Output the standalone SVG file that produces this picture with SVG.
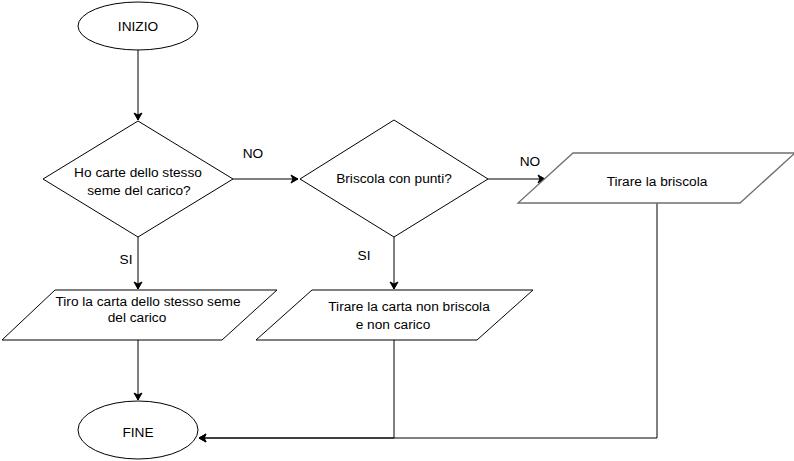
<svg xmlns="http://www.w3.org/2000/svg" width="794" height="461" viewBox="0 0 794 461">
<style>
.s{fill:#fff;stroke:#000;stroke-width:1}
.g{fill:#fff;stroke:#6f6f6f;stroke-width:1.3}
.t{font-family:"Liberation Sans",Arial,Helvetica,sans-serif;font-size:13.7px;fill:#000;text-anchor:middle}
.c{fill:none;stroke:#000;stroke-width:1}
</style>
<defs>
<marker id="a" markerWidth="10" markerHeight="10" refX="8" refY="5" orient="auto" markerUnits="userSpaceOnUse">
<path d="M1,1 L8,5 L1,9 L3,5 Z" fill="#000" stroke="#000" stroke-width="1"/>
</marker>
</defs>
<rect width="794" height="461" fill="#fff"/>
<g id="connectors">
<path class="c" d="M138,50 L138,120" marker-end="url(#a)"/>
<path class="c" d="M233,179 L298,179" marker-end="url(#a)"/>
<path class="c" d="M488,179 L545,179" marker-end="url(#a)"/>
<path class="c" d="M138,237 L138,289" marker-end="url(#a)"/>
<path class="c" d="M394,237 L394,289" marker-end="url(#a)"/>
<path class="c" d="M138,340 L138,400" marker-end="url(#a)"/>
<path class="c" d="M394,340 L394,438 L199,438" marker-end="url(#a)"/>
<path class="c" d="M657,203 L657,438 L199,438" marker-end="url(#a)"/>
<text class="t" x="253" y="158">NO</text>
<text class="t" x="530" y="166">NO</text>
<text class="t" x="126" y="264">SI</text>
<text class="t" x="364" y="260">SI</text>
</g>
<g id="inizio">
<ellipse class="s" cx="138" cy="26" rx="60" ry="24"/>
<text class="t" x="138" y="31">INIZIO</text>
</g>
<g id="decisione1">
<polygon class="s" points="138,121 233,179 138,237 43,179"/>
<text class="t" x="138" y="177">Ho carte dello stesso</text>
<text class="t" x="139" y="195">seme del carico?</text>
</g>
<g id="decisione2">
<polygon class="s" points="394,120 488,179 394,237 300,179"/>
<text class="t" x="394" y="183">Briscola con punti?</text>
</g>
<g id="tirare-briscola">
<polygon class="g" points="573,153 795,153 740,203 518,203"/>
<text class="t" x="657" y="186">Tirare la briscola</text>
</g>
<g id="tiro-stesso-seme">
<polygon class="s" points="55,290 277,290 222,340 2,340"/>
<text class="t" x="148" y="306">Tiro la carta dello stesso seme</text>
<text class="t" x="137" y="322">del carico</text>
</g>
<g id="tirare-non-briscola">
<polygon class="s" points="312,290 533,290 477,340 256,340"/>
<text class="t" x="409" y="311">Tirare la carta non briscola</text>
<text class="t" x="393" y="329">e non carico</text>
</g>
<g id="fine">
<ellipse class="s" cx="138" cy="430" rx="60" ry="29"/>
<text class="t" x="138" y="437">FINE</text>
</g>
</svg>
